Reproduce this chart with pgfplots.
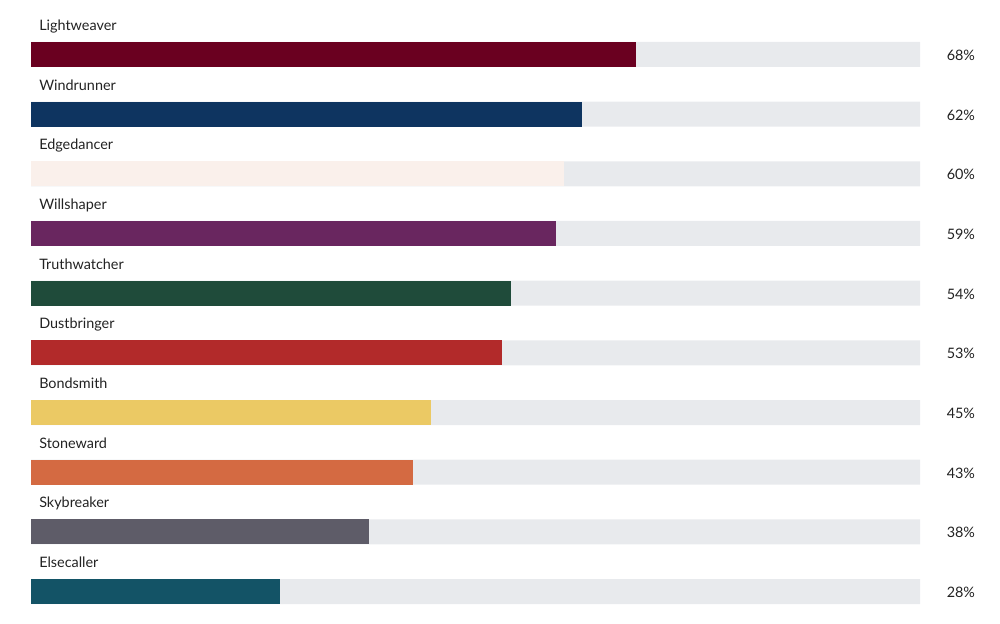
\documentclass[border=0pt]{standalone}
\usepackage{pgfplots}
\pgfplotsset{compat=1.18}
\usepackage{fontspec}
\setmainfont{Lato}
\definecolor{track}{HTML}{E8EAED}
\definecolor{txt}{HTML}{222222}
\definecolor{c1}{HTML}{6A0020}
\definecolor{c2}{HTML}{0E3460}
\definecolor{c3}{HTML}{FAF0EB}
\definecolor{c4}{HTML}{69265F}
\definecolor{c5}{HTML}{1F4B3A}
\definecolor{c6}{HTML}{B22A2A}
\definecolor{c7}{HTML}{EBC964}
\definecolor{c8}{HTML}{D46A42}
\definecolor{c9}{HTML}{5E5C68}
\definecolor{c10}{HTML}{135366}
\tikzset{nm/.style={anchor=base west, text=txt, inner sep=0pt}, pc/.style={anchor=base, text=txt, inner sep=0pt}}
\begin{document}
\begin{tikzpicture}
\useasboundingbox (0,0) rectangle (750pt,468pt);
\begin{axis}[
  at={(0,0)}, anchor=south west,
  scale only axis, width=750pt, height=468pt,
  xmin=-3.487, xmax=109.0, ymin=0, ymax=624, y dir=reverse,
  hide axis, clip=false,
  xbar, bar shift=0pt, bar width=25,
  every axis plot/.append style={draw=none},
  font=\fontsize{10.8}{12}\selectfont,
]
% background tracks
\addplot[fill=track] coordinates {(100,54.5) (100,114.2) (100,173.8) (100,233.5) (100,293.2) (100,352.8) (100,412.5) (100,472.2) (100,531.8) (100,591.5)};
\addplot[fill=c1] coordinates {(68,54.5)};
\addplot[fill=c2] coordinates {(62,114.2)};
\addplot[fill=c3] coordinates {(60,173.8)};
\addplot[fill=c4] coordinates {(59,233.5)};
\addplot[fill=c5] coordinates {(54,293.2)};
\addplot[fill=c6] coordinates {(53,352.8)};
\addplot[fill=c7] coordinates {(45,412.5)};
\addplot[fill=c8] coordinates {(43,472.2)};
\addplot[fill=c9] coordinates {(38,531.8)};
\addplot[fill=c10] coordinates {(28,591.5)};
\node[nm] at (axis cs:0.9,30.5) {Lightweaver};
\node[nm] at (axis cs:0.9,90.2) {Windrunner};
\node[nm] at (axis cs:0.9,149.8) {Edgedancer};
\node[nm] at (axis cs:0.9,209.5) {Willshaper};
\node[nm] at (axis cs:0.9,269.2) {Truthwatcher};
\node[nm] at (axis cs:0.9,328.8) {Dustbringer};
\node[nm] at (axis cs:0.9,388.5) {Bondsmith};
\node[nm] at (axis cs:0.9,448.2) {Stoneward};
\node[nm] at (axis cs:0.9,507.8) {Skybreaker};
\node[nm] at (axis cs:0.9,567.5) {Elsecaller};
\node[pc] at (axis cs:104.6,60.5) {68\%};
\node[pc] at (axis cs:104.6,120.2) {62\%};
\node[pc] at (axis cs:104.6,179.8) {60\%};
\node[pc] at (axis cs:104.6,239.5) {59\%};
\node[pc] at (axis cs:104.6,299.2) {54\%};
\node[pc] at (axis cs:104.6,358.8) {53\%};
\node[pc] at (axis cs:104.6,418.5) {45\%};
\node[pc] at (axis cs:104.6,478.2) {43\%};
\node[pc] at (axis cs:104.6,537.8) {38\%};
\node[pc] at (axis cs:104.6,597.5) {28\%};
\end{axis}
\end{tikzpicture}
\end{document}
